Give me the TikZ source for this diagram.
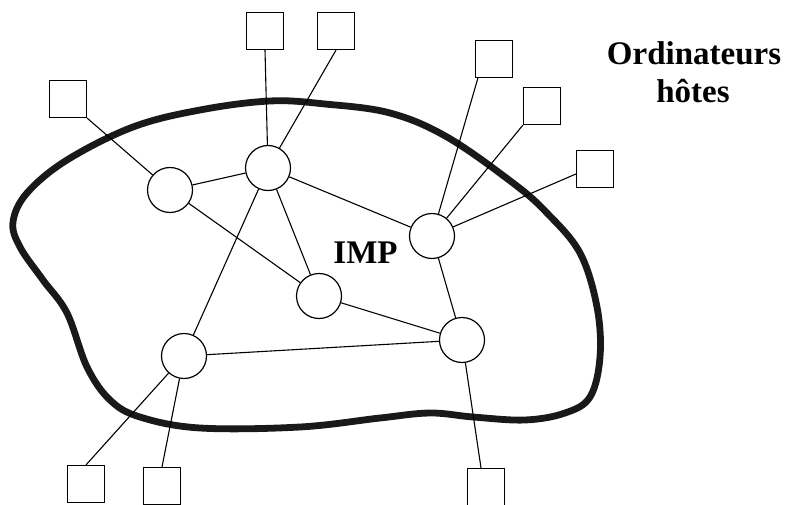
\documentclass[tikz,border=0pt]{standalone}
\usepackage{fontspec}
\setmainfont{Liberation Serif}
\begin{document}
\begin{tikzpicture}[x=1pt,y=-1pt,
  imp/.style={circle,draw,line width=1.2pt,minimum size=45pt,inner sep=0pt,fill=white},
  host/.style={rectangle,draw,line width=1.2pt,minimum size=37pt,inner sep=0pt},
  link/.style={line width=1.1pt},
  lbl/.style={font=\fontsize{33}{38}\selectfont\bfseries,inner sep=0pt,anchor=base}]
\useasboundingbox (0,0) rectangle (786,505);
% network boundary
\draw[line width=6.8pt,line join=round,black!90] plot[smooth cycle,tension=0.6] coordinates {
 (13,222) (27,193) (67,160) (133,127) (200,110) (270,101) (325,104) (390,113)
 (447,137) (513,183) (547,213) (580,253) (597,307) (600,357) (590,397) (565,413)
 (525,420) (473,417) (430,413) (380,418) (300,427) (200,428) (140,417) (110,400)
 (87,367) (67,313) (43,280) (20,247)};
% IMP nodes
\node[imp] (A) at (170,190) {};
\node[imp] (B) at (268,168) {};
\node[imp] (C) at (432,236) {};
\node[imp] (D) at (319,296) {};
\node[imp] (E) at (184,356) {};
\node[imp] (F) at (462,340) {};
% hosts
\node[host] (S1) at (68,99) {};
\node[host] (S2) at (265,31) {};
\node[host] (S3) at (336,31) {};
\node[host] (S4) at (494,59) {};
\node[host] (S5) at (542,106) {};
\node[host] (S6) at (595,169) {};
\node[host] (S7) at (86,484) {};
\node[host] (S8) at (162,486) {};
\node[host] (S9) at (486,487) {};
% links between IMPs
\draw[link] (A) -- (B);
\draw[link] (A) -- (D);
\draw[link] (B) -- (D);
\draw[link] (B) -- (C);
\draw[link] (B) -- (E);
\draw[link] (C) -- (F);
\draw[link] (D) -- (F);
\draw[link] (E) -- (F);
% host links
\draw[link] (S1.south east) -- (A);
\draw[link] (S2.south) -- (B);
\draw[link] (S3.south) -- (B);
\draw[link] (S4.south west) ++(3,0) coordinate (s4a) -- (C);
\draw[link] (S5.south west) -- (C);
\draw[link] (S6.west) ++(0,5) coordinate (s6a) -- (C);
\draw[link] (S7.north) -- (E);
\draw[link] (S8.north) -- (E);
\draw[link] (S9.north) ++(-5,0) coordinate (s9a) -- (F);
% labels
\node[lbl] (imp) at (365.5,263) {IMP};
\node[lbl] (ord) at (694,65) {Ordinateurs};
\node[lbl] (hot) at (693,103) {hôtes};
\end{tikzpicture}
\end{document}
